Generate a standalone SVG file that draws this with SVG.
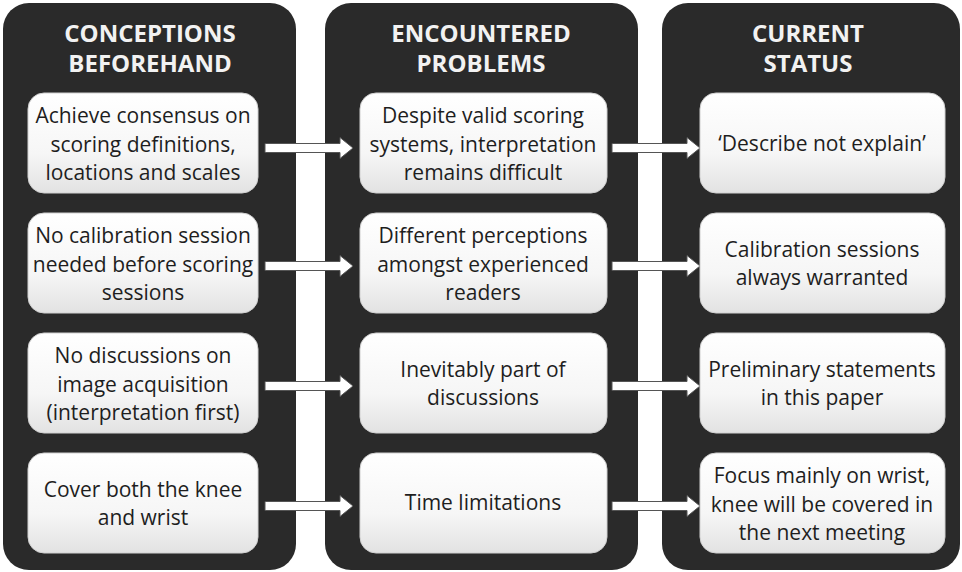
<svg xmlns="http://www.w3.org/2000/svg" xmlns:xlink="http://www.w3.org/1999/xlink" width="962" height="572" viewBox="0 0 962 572">
<style>
.panel{fill:#2a2a2a}
.box{fill:url(#bg);stroke:#d0d0d0;stroke-width:1}
.hd{font-family:"Open Sans","Liberation Sans",sans-serif;font-weight:bold;font-size:24px;fill:#f2f2f2;text-anchor:middle}
.tx{font-family:"Open Sans","Liberation Sans",sans-serif;font-size:21px;fill:#1e1e1e;text-anchor:middle}
.arr{fill:#ffffff;stroke:#555;stroke-width:1}
</style>
<defs>
<linearGradient id="bg" x1="0" y1="0" x2="0" y2="1">
<stop offset="0" stop-color="#ffffff"/>
<stop offset="0.6" stop-color="#f6f6f6"/>
<stop offset="1" stop-color="#e2e2e2"/>
</linearGradient>
<path id="ar" d="M0,-4.5 H75 V-10.5 L88,0 L75,10.5 V4.5 H0 Z"/>
</defs>
<rect width="962" height="572" fill="#ffffff"/>
<g id="panel1">
<rect class="panel" x="3" y="3" width="293" height="567" rx="26"/>
<text class="hd" x="150" y="42">CONCEPTIONS</text>
<text class="hd" x="150" y="72">BEFOREHAND</text>
</g>
<g id="panel2">
<rect class="panel" x="325" y="3" width="313" height="567" rx="26"/>
<text class="hd" x="481" y="42">ENCOUNTERED</text>
<text class="hd" x="481" y="72">PROBLEMS</text>
</g>
<g id="panel3">
<rect class="panel" x="662" y="3" width="298" height="567" rx="26"/>
<text class="hd" x="808" y="42">CURRENT</text>
<text class="hd" x="808" y="72">STATUS</text>
</g>
<g id="connectors">
<use xlink:href="#ar" class="arr" x="265" y="148"/>
<use xlink:href="#ar" class="arr" x="612" y="148"/>
<use xlink:href="#ar" class="arr" x="265" y="266"/>
<use xlink:href="#ar" class="arr" x="612" y="266"/>
<use xlink:href="#ar" class="arr" x="265" y="386"/>
<use xlink:href="#ar" class="arr" x="612" y="386"/>
<use xlink:href="#ar" class="arr" x="265" y="506"/>
<use xlink:href="#ar" class="arr" x="612" y="506"/>
</g>
<g id="n1">
<rect class="box" x="28" y="93" width="230" height="100" rx="16"/>
<text class="tx" x="143" y="123">Achieve consensus on</text>
<text class="tx" x="143" y="152">scoring definitions,</text>
<text class="tx" x="143" y="180">locations and scales</text>
</g>
<g id="n2">
<rect class="box" x="360" y="93" width="247" height="100" rx="16"/>
<text class="tx" x="483" y="123">Despite valid scoring</text>
<text class="tx" x="483" y="152">systems, interpretation</text>
<text class="tx" x="483" y="180">remains difficult</text>
</g>
<g id="n3">
<rect class="box" x="700" y="93" width="245" height="100" rx="16"/>
<text class="tx" x="822" y="151">‘Describe not explain’</text>
</g>
<g id="n4">
<rect class="box" x="28" y="213" width="230" height="100" rx="16"/>
<text class="tx" x="143" y="243">No calibration session</text>
<text class="tx" x="143" y="272">needed before scoring</text>
<text class="tx" x="143" y="300">sessions</text>
</g>
<g id="n5">
<rect class="box" x="360" y="213" width="247" height="100" rx="16"/>
<text class="tx" x="483" y="243">Different perceptions</text>
<text class="tx" x="483" y="272">amongst experienced</text>
<text class="tx" x="483" y="300">readers</text>
</g>
<g id="n6">
<rect class="box" x="700" y="213" width="245" height="100" rx="16"/>
<text class="tx" x="822" y="257">Calibration sessions</text>
<text class="tx" x="822" y="285">always warranted</text>
</g>
<g id="n7">
<rect class="box" x="28" y="333" width="230" height="100" rx="16"/>
<text class="tx" x="143" y="363">No discussions on</text>
<text class="tx" x="143" y="392">image acquisition</text>
<text class="tx" x="143" y="420">(interpretation first)</text>
</g>
<g id="n8">
<rect class="box" x="360" y="333" width="247" height="100" rx="16"/>
<text class="tx" x="483" y="377">Inevitably part of</text>
<text class="tx" x="483" y="405">discussions</text>
</g>
<g id="n9">
<rect class="box" x="700" y="333" width="245" height="100" rx="16"/>
<text class="tx" x="822" y="377">Preliminary statements</text>
<text class="tx" x="822" y="405">in this paper</text>
</g>
<g id="n10">
<rect class="box" x="28" y="453" width="230" height="100" rx="16"/>
<text class="tx" x="143" y="497">Cover both the knee</text>
<text class="tx" x="143" y="525">and wrist</text>
</g>
<g id="n11">
<rect class="box" x="360" y="453" width="247" height="100" rx="16"/>
<text class="tx" x="483" y="510">Time limitations</text>
</g>
<g id="n12">
<rect class="box" x="700" y="453" width="245" height="100" rx="16"/>
<text class="tx" x="822" y="483">Focus mainly on wrist,</text>
<text class="tx" x="822" y="512">knee will be covered in</text>
<text class="tx" x="822" y="540">the next meeting</text>
</g>
</svg>
